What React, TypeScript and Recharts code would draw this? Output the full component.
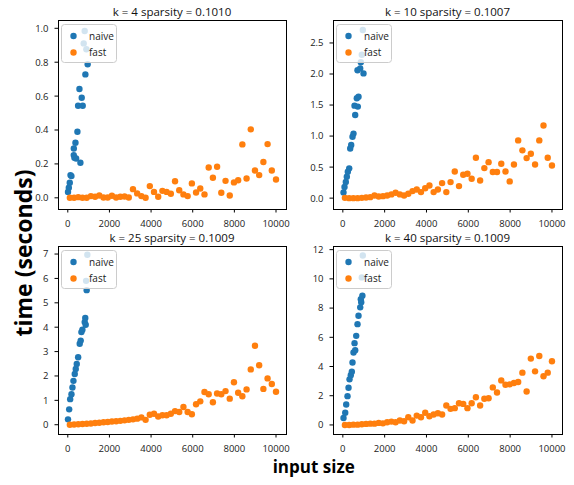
import React from 'react'
import { ScatterChart, Scatter, XAxis, YAxis, Legend } from 'recharts'

const FONT = '"Open Sans", "Noto Sans", sans-serif'
const NAIVE_COLOR = '#1f77b4'
const FAST_COLOR = '#ff7f0e'

// input sizes of the fast runs, shared by all four panels
const fastSizes = [
  100, 302, 504, 706, 908, 1110, 1312, 1514, 1716, 1918, 2120, 2322, 2524, 2727, 2929, 3131, 3333,
  3535, 3737, 3939, 4141, 4343, 4545, 4747, 4949, 5151, 5353, 5555, 5757, 5959, 6161, 6363, 6565,
  6767, 6969, 7171, 7373, 7576, 7778, 7980, 8182, 8384, 8586, 8788, 8990, 9192, 9394, 9596, 9798,
  10000,
]

const xTicks = [0, 2000, 4000, 6000, 8000, 10000]

// k = 4
const k4NaiveSizes = [10, 50, 95, 130, 175, 287, 290, 320, 368, 400, 463, 495, 559, 606, 669, 716, 764, 812, 845, 893, 955]
const k4NaiveTimes = [0.035, 0.059, 0.089, 0.134, 0.128, 0.252, 0.291, 0.236, 0.325, 0.232, 0.39, 0.543, 0.642, 0.207, 0.59, 0.543, 0.911, 0.984, 0.728, 0.876, 0.788]
const k4FastTimes = [
  0, 0, 0.004, 0, 0, 0.01, 0.006, 0.014, 0.002, 0.002, 0.012, 0.002, 0.006, 0.008, 0.002, 0.051,
  0.026, 0.01, 0, 0.069, 0.035, 0.006, 0.041, 0.035, 0.024, 0.098, 0.045, 0.02, 0.01, 0.085, 0.031,
  0.055, 0.02, 0.179, 0.118, 0.183, 0.03, 0.1, 0.014, 0.091, 0.104, 0.315, 0.114, 0.404, 0.161,
  0.134, 0.211, 0.317, 0.161, 0.108,
]
const k4Ticks = [0, 0.2, 0.4, 0.6, 0.8, 1.0]

// k = 10
const k10NaiveSizes = [33, 81, 143, 191, 239, 305, 353, 401, 463, 511, 559, 592, 669, 702, 716, 750, 831, 860, 908, 955, 989]
const k10NaiveTimes = [0.09, 0.18, 0.26, 0.345, 0.425, 0.48, 0.8, 0.855, 0.99, 1.04, 1.49, 1.34, 1.61, 2.06, 1.475, 1.635, 2.09, 2.19, 2.31, 2.71, 2.01]
const k10FastTimes = [
  0.005, 0, 0, 0, 0.005, 0.01, 0.016, 0.043, 0.027, 0.032, 0.043, 0.06, 0.086, 0.06, 0.043, 0.07,
  0.113, 0.14, 0.097, 0.16, 0.204, 0.097, 0.14, 0.242, 0.097, 0.258, 0.43, 0.194, 0.376, 0.392,
  0.312, 0.65, 0.285, 0.484, 0.58, 0.42, 0.42, 0.554, 0.43, 0.27, 0.543, 0.93, 0.77, 0.645, 0.715,
  0.543, 0.93, 1.17, 0.65, 0.527,
]
const k10Ticks = [0, 0.5, 1.0, 1.5, 2.0, 2.5]

// k = 25
const k25NaiveSizes = [10, 67, 115, 177, 224, 272, 334, 382, 430, 497, 573, 621, 654, 702, 812, 840, 860, 880, 907, 940]
const k25NaiveTimes = [0.22, 0.63, 1.05, 1.25, 1.53, 1.8, 2.08, 2.29, 2.49, 2.77, 3.32, 3.45, 3.8, 3.9, 4.21, 4.38, 4.1, 5.9, 5.52, 6.97]
const k25FastTimes = [
  0, 0.01, 0.02, 0.03, 0.04, 0.05, 0.07, 0.08, 0.1, 0.11, 0.13, 0.14, 0.16, 0.18, 0.2, 0.22, 0.25,
  0.3, 0.2, 0.41, 0.45, 0.34, 0.39, 0.39, 0.45, 0.56, 0.52, 0.73, 0.52, 0.43, 0.84, 0.96, 1.34,
  1.25, 0.92, 1.28, 1.25, 1.38, 1.07, 1.74, 1.31, 1.17, 1.45, 2.27, 3.24, 2.44, 1.47, 1.9, 1.67,
  1.35,
]
const k25Ticks = [0, 1, 2, 3, 4, 5, 6, 7]

// k = 40
const k40NaiveSizes = [33, 115, 162, 224, 272, 320, 380, 430, 463, 511, 560, 592, 640, 702, 750, 831, 860, 880, 907, 935, 955]
const k40NaiveTimes = [0.48, 0.83, 1.4, 1.97, 2.55, 3.12, 3.4, 3.65, 4.27, 4.96, 5.6, 5.11, 6.1, 6.9, 7.47, 8.05, 8.6, 8.4, 10.1, 8.85, 11.6]
const k40FastTimes = [
  0, 0, 0.02, 0.02, 0.05, 0.07, 0.09, 0.09, 0.14, 0.11, 0.18, 0.23, 0.18, 0.3, 0.25, 0.53, 0.3,
  0.64, 0.53, 0.83, 0.6, 0.71, 0.8, 0.71, 1.33, 1.1, 1.15, 1.49, 1.44, 1.15, 1.49, 1.9, 1.33, 1.79,
  1.83, 2.57, 2.22, 3.05, 2.75, 2.78, 2.87, 2.94, 3.58, 2.29, 4.54, 3.67, 4.72, 3.33, 3.58, 4.36,
]
const k40Ticks = [0, 2, 4, 6, 8, 10, 12]

const zip = (xs: number[], ys: number[]) => xs.map((x, i) => ({ x, y: ys[i] }))

type Panel = {
  title: string
  left: number
  top: number
  width: number
  height: number
  yDomain: [number, number]
  yTicks: number[]
  digits: number
  naive: { x: number; y: number }[]
  fast: { x: number; y: number }[]
}

const panels: Panel[] = [
  {
    title: 'k = 4 sparsity = 0.1010',
    left: 58, top: 20, width: 228, height: 189,
    yDomain: [-0.066, 1.049], yTicks: k4Ticks, digits: 1,
    naive: zip(k4NaiveSizes, k4NaiveTimes), fast: zip(fastSizes, k4FastTimes),
  },
  {
    title: 'k = 10 sparsity = 0.1007',
    left: 333, top: 20, width: 229, height: 189,
    yDomain: [-0.175, 2.87], yTicks: k10Ticks, digits: 1,
    naive: zip(k10NaiveSizes, k10NaiveTimes), fast: zip(fastSizes, k10FastTimes),
  },
  {
    title: 'k = 25 sparsity = 0.1009',
    left: 58, top: 246, width: 228, height: 188,
    yDomain: [-0.38, 7.33], yTicks: k25Ticks, digits: 0,
    naive: zip(k25NaiveSizes, k25NaiveTimes), fast: zip(fastSizes, k25FastTimes),
  },
  {
    title: 'k = 40 sparsity = 0.1009',
    left: 333, top: 246, width: 229, height: 188,
    yDomain: [-0.62, 12.25], yTicks: k40Ticks, digits: 0,
    naive: zip(k40NaiveSizes, k40NaiveTimes), fast: zip(fastSizes, k40FastTimes),
  },
]

const XTick = (props: any) => {
  const { x, y, payload } = props
  return (
    <text x={x} y={y} dy={12} textAnchor="middle" fontSize={9.5} fontFamily={FONT} fill="#222">
      {payload.value}
    </text>
  )
}

const makeYTick = (digits: number) => (props: any) => {
  const { x, y, payload } = props
  return (
    <text x={x} y={y} dx={-4} dy={3.4} textAnchor="end" fontSize={9.5} fontFamily={FONT} fill="#222">
      {Number(payload.value).toFixed(digits)}
    </text>
  )
}

const dot = (color: string) => (props: any) => (
  <circle cx={props.cx} cy={props.cy} r={3.2} fill={color} />
)

function LegendBox() {
  return (
    <svg width={56} height={39} style={{ display: 'block' }}>
      <rect x={0.5} y={0.5} width={55} height={38} rx={3} fill="#fff" fillOpacity={0.8} stroke="#ccc" />
      <circle cx={12.5} cy={12} r={3.2} fill={NAIVE_COLOR} />
      <circle cx={12.5} cy={28.5} r={3.2} fill={FAST_COLOR} />
      <text x={28} y={15.5} fontSize={10} fontFamily={FONT} fill="#222">naive</text>
      <text x={28} y={32} fontSize={10} fontFamily={FONT} fill="#222">fast</text>
    </svg>
  )
}

function PanelChart({ p }: { p: Panel }) {
  const xDomain: [number, number] = [-470, 10480]
  return (
    <div style={{ position: 'absolute', left: p.left - 58, top: p.top - 20 }}>
      <ScatterChart
        width={p.width + 62}
        height={p.height + 42}
        margin={{ top: 20, right: 4, bottom: 0, left: 0 }}
      >
        <XAxis
          type="number"
          dataKey="x"
          domain={xDomain}
          allowDataOverflow
          ticks={xTicks}
          interval={0}
          height={22}
          tickSize={3.5}
          axisLine={false}
          tickLine={{ stroke: '#000' }}
          tick={<XTick />}
        />
        <YAxis
          type="number"
          dataKey="y"
          domain={p.yDomain}
          allowDataOverflow
          ticks={p.yTicks}
          interval={0}
          width={58}
          tickSize={3.5}
          axisLine={false}
          tickLine={{ stroke: '#000' }}
          tick={makeYTick(p.digits)}
        />
        <Scatter name="naive" data={p.naive} fill={NAIVE_COLOR} shape={dot(NAIVE_COLOR)} isAnimationActive={false} />
        <Scatter name="fast" data={p.fast} fill={FAST_COLOR} shape={dot(FAST_COLOR)} isAnimationActive={false} />
        <Legend
          layout="vertical"
          align="center"
          verticalAlign="middle"
          content={() => <LegendBox />}
          wrapperStyle={{ left: 61, top: 24, width: 56, height: 39 }}
        />
      </ScatterChart>
      {/* axes frame (all four spines) */}
      <div
        style={{
          position: 'absolute',
          left: 57.5,
          top: 19.5,
          width: p.width + 1,
          height: p.height + 1,
          border: '1px solid #000',
          boxSizing: 'border-box',
          pointerEvents: 'none',
        }}
      />
    </div>
  )
}

export default function App() {
  return (
    <div style={{ position: 'absolute', left: 0, top: 0, width: 574, height: 485, background: '#fff' }}>
      <svg width={574} height={485} style={{ position: 'absolute', left: 0, top: 0 }}>
        {panels.map((p) => (
          <text
            key={p.title}
            x={p.left + p.width / 2}
            y={p.top - 4.5}
            textAnchor="middle"
            fontSize={11.5}
            fontFamily={FONT}
            fill="#111"
          >
            {p.title}
          </text>
        ))}
        <text x={313.7} y={473} textAnchor="middle" fontSize={17} fontWeight="bold" fontFamily={FONT} fill="#000">
          input size
        </text>
        <text
          x={32}
          y={253}
          textAnchor="middle"
          fontSize={23}
          fontWeight="bold"
          fontFamily={FONT}
          fill="#000"
          transform="rotate(-90, 32, 253)"
        >
          time (seconds)
        </text>
      </svg>
      {panels.map((p) => (
        <PanelChart key={p.title} p={p} />
      ))}
    </div>
  )
}
